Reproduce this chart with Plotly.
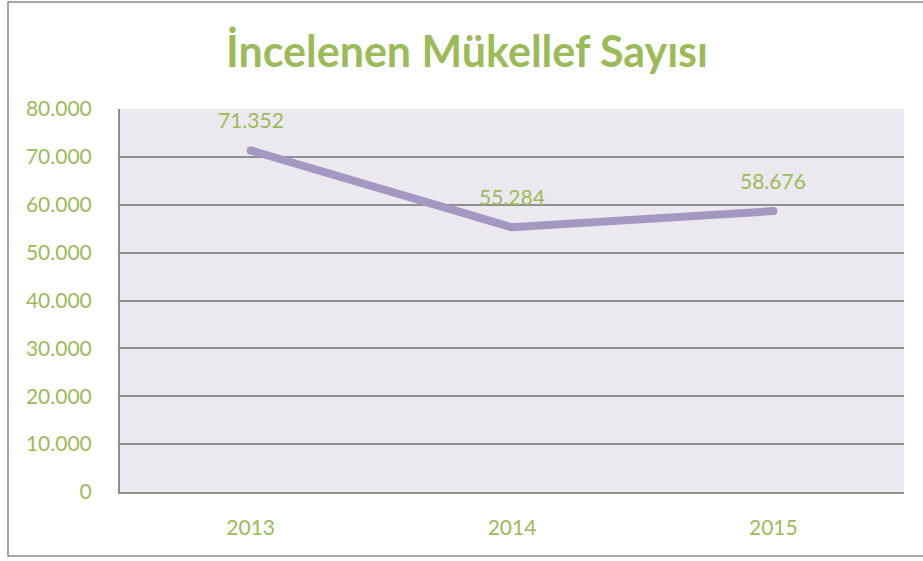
import plotly.graph_objects as go

years = ["2013", "2014", "2015"]
values = [71352, 55284, 58676]
y_ticks = [0, 10000, 20000, 30000, 40000, 50000, 60000, 70000, 80000]
title_text = "İncelenen Mükellef Sayısı"

GREEN = "#9BBB59"
PURPLE = "#A497C0"
GRID = "#8F8F8F"
FONT = "Lato, 'Open Sans', sans-serif"

fig = go.Figure()
fig.add_trace(go.Scatter(
    x=years, y=values, mode="lines+markers",
    line=dict(color=PURPLE, width=8),
    marker=dict(color=PURPLE, size=8),
    hoverinfo="skip", showlegend=False,
))

for i, v in enumerate(values):
    fig.add_annotation(
        x=i, y=v, xref="x", yref="y",
        text=f"{v:,}".replace(",", "."), showarrow=False,
        yshift=31, font=dict(color=GREEN, size=21, family=FONT),
    )

L, R, T, B = 120, 19, 109, 69
W, H = 923, 561
pw, ph = W - L - R, H - T - B
def px(x): return (x - L) / pw
def py(y): return (H - B - y) / ph

fig.add_shape(type="rect", xref="paper", yref="paper",
              x0=px(8), x1=px(935), y0=py(556), y1=py(2),
              line=dict(color="#8A8A8A", width=1.5), fillcolor="rgba(0,0,0,0)", layer="below")

fig.update_layout(
    width=W, height=H,
    margin=dict(l=L, r=R, t=T, b=B),
    paper_bgcolor="white", plot_bgcolor="#EBE9EF",
    separators=",.",
    title=dict(text=f"<b>{title_text}</b>", x=467 / W, xref="container",
               xanchor="center", y=1 - 52 / H, yanchor="middle",
               font=dict(color=GREEN, size=43, family=FONT)),
    xaxis=dict(type="category", range=[-0.5, 2.5], showgrid=False,
               showline=True, linecolor=GRID, linewidth=2, ticks="",
               tickfont=dict(color=GREEN, size=21, family=FONT),
               ticklabelstandoff=16, fixedrange=True),
    yaxis=dict(range=[0, 80000], tickvals=y_ticks, tickformat=",d",
               showgrid=True, gridcolor=GRID, gridwidth=1.5,
               showline=True, linecolor=GRID, linewidth=2, ticks="",
               zeroline=False,
               tickfont=dict(color=GREEN, size=21, family=FONT),
               ticklabelstandoff=22, fixedrange=True),
)

fig.write_html("out.html", config={"displayModeBar": False},
               post_script="document.body.style.margin='0';")
